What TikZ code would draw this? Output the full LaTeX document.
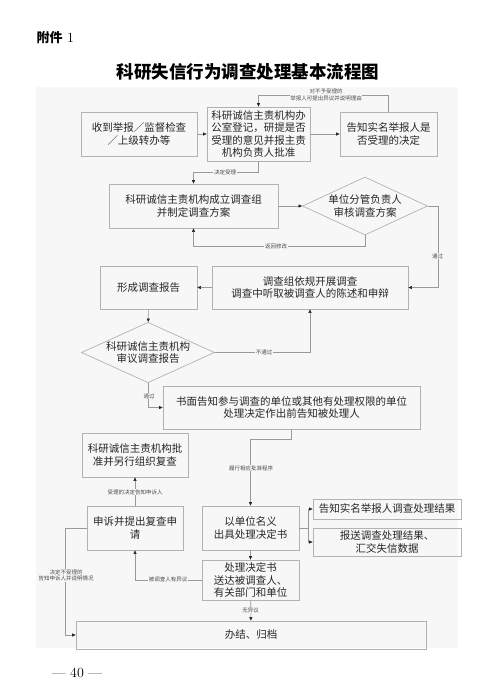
\documentclass[tikz,border=0pt]{standalone}
\usepackage{fontspec}
\newfontfamily\cjk{Noto Sans CJK SC}
\usetikzlibrary{arrows.meta,shapes.geometric}
\tikzset{
  kuang/.style={draw=black!30, line width=0.7pt, align=center, inner sep=0pt,
    text=black!85, font=\cjk\fontsize{10.5}{12.5}\selectfont},
  lingxing/.style={kuang, shape=diamond, aspect=2.2},
  jiantou/.style={draw=black!40, line width=0.6pt,
    -{Triangle[length=3.5pt,width=3pt,color=black!85]}},
  biaoqian/.style={font=\cjk\fontsize{5.5}{6.5}\selectfont, text=black!70,
    fill=black!3, inner sep=0.6pt, align=center}
}
\begin{document}
\begin{tikzpicture}[x=1pt,y=-1pt]
  \useasboundingbox[fill=white] (0,0) rectangle (500,697);
  \fill[black!3] (36,87) rectangle (458,648);
  % 标题
  \node[anchor=west, font=\fontsize{14}{16}\selectfont] (fujian) at (33,38) {{\cjk\bfseries\fontsize{13}{15}\selectfont 附件} 1};
  \node[font=\cjk\bfseries\fontsize{17.5}{20}\selectfont] (biaoti) at (248,72) {科研失信行为调查处理基本流程图};

  % 各个框
  \node[kuang, minimum width=116pt, minimum height=44pt] (shoudao) at (139,134) {收到举报／监督检查\\／上级转办等};
  \node[kuang, minimum width=103pt, minimum height=54pt] (dengji) at (258.5,134) {科研诚信主责机构办\\公室登记，研提是否\\受理的意见并报主责\\机构负责人批准};
  \node[kuang, minimum width=97pt, minimum height=44pt] (gaozhi) at (388.5,134) {告知实名举报人是\\否受理的决定};
  \node[kuang, minimum width=169pt, minimum height=44pt] (chengli) at (193.5,206) {科研诚信主责机构成立调查组\\并制定调查方案};
  \node[lingxing, minimum width=125pt, minimum height=58pt] (shenhe) at (365,206) {单位分管负责人\\审核调查方案};
  \node[kuang, minimum width=196pt, minimum height=43pt] (kaizhan) at (310,287.5) {调查组依规开展调查\\调查中听取被调查人的陈述和申辩};
  \node[kuang, minimum width=97pt, minimum height=43pt] (baogao) at (148.5,287.5) {形成调查报告};
  \node[lingxing, minimum width=130pt, minimum height=59pt] (shenyi) at (148,352.5) {科研诚信主责机构\\审议调查报告};
  \node[kuang, minimum width=257pt, minimum height=43pt] (shumian) at (291.5,407.5) {书面告知参与调查的单位或其他有处理权限的单位\\处理决定作出前告知被处理人};
  \node[kuang, minimum width=106pt, minimum height=44pt] (pizhun) at (135,455) {科研诚信主责机构批\\准并另行组织复查};
  \node[kuang, minimum width=96pt, minimum height=44pt] (shensu) at (135,528) {申诉并提出复查申\\请};
  \node[kuang, minimum width=97pt, minimum height=44pt] (chuju) at (250.5,528) {以单位名义\\出具处理决定书};
  \node[kuang, minimum width=148pt, minimum height=20pt] (jieguo) at (387,509) {告知实名举报人调查处理结果};
  \node[kuang, minimum width=148pt, minimum height=28pt] (baosong) at (387,542) {报送调查处理结果、\\汇交失信数据};
  \node[kuang, minimum width=97pt, minimum height=40pt] (songda) at (250.5,580) {处理决定书\\送达被调查人、\\有关部门和单位};
  \node[kuang, minimum width=350pt, minimum height=28pt] (banjie) at (251,635) {办结、归档};

  % 连线
  \draw[jiantou] (shoudao) -- (dengji);
  \draw[jiantou] (dengji) -- (gaozhi);
  \draw[jiantou] (gaozhi.north) -- ++(0,-16) -| (dengji.north);
  \draw[jiantou] (dengji.south) -- ++(0,11) -| (chengli.north);
  \draw[jiantou] (chengli) -- (shenhe);
  \draw[jiantou] (shenhe.south) -- ++(0,11) -| (chengli.south);
  \draw[jiantou] (shenhe.east) -- ++(10,0) |- (kaizhan.east);
  \draw[jiantou] (kaizhan) -- (baogao);
  \draw[jiantou] (baogao) -- (shenyi);
  \draw[jiantou] (shenyi.east) -| (kaizhan.south);
  \draw[jiantou] (shenyi.south) |- (shumian.west);
  \draw[jiantou] (shumian.south) -- ++(0,10) -| (chuju.north);
  \draw[jiantou] (shensu) -- (pizhun);
  \draw[jiantou] (chuju.east) -- ++(9,0) |- (jieguo.west);
  \draw[jiantou] (chuju.east) -- ++(9,0) |- (baosong.west);
  \draw[jiantou] (chuju) -- (songda);
  \draw[jiantou] (songda.west) -| (shensu.south);
  \draw[jiantou] (songda) -- (banjie);
  \draw[jiantou] (shensu.west) -- ++(-21,0) |- (banjie.west);

  % 线上的字
  \node[biaoqian] (lb1) at (326,95) {对不予受理的\\举报人可提出异议并说明理由};
  \node[biaoqian] (lb2) at (225,172) {决定受理};
  \node[biaoqian] (lb3) at (276,246) {返回修改};
  \node[biaoqian] (lb4) at (437.5,256) {通过};
  \node[biaoqian] (lb5) at (264,352.5) {不通过};
  \node[biaoqian] (lb6) at (149,396) {通过};
  \node[biaoqian] (lb7) at (251,468) {履行相应批准程序};
  \node[biaoqian] (lb8) at (135,492) {受理的决定告知申诉人};
  \node[biaoqian] (lb9) at (168,579) {被调查人有异议};
  \node[biaoqian] (lb10) at (250.5,610) {无异议};
  \node[biaoqian] (lb11) at (66,575.5) {决定不受理的\\告知申诉人并说明情况};

  \node[font=\fontsize{14}{16}\selectfont] (yema) at (77,673) {— 40 —};
\end{tikzpicture}
\end{document}
